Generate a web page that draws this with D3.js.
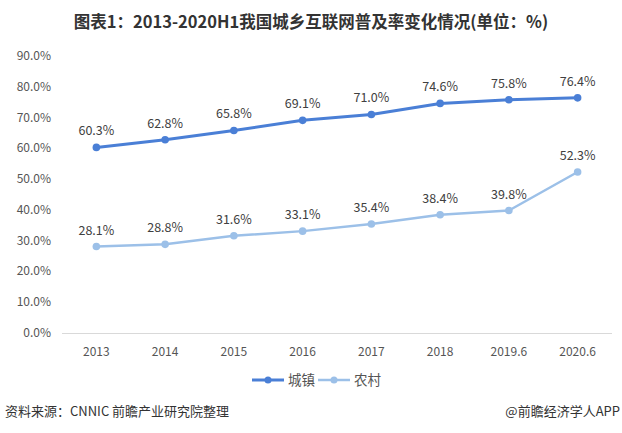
<!DOCTYPE html>
<html><head><meta charset="utf-8">
<script src="https://cdn.jsdelivr.net/npm/d3@7"></script>
<style>body{margin:0;background:#fff}svg{display:block;font-family:"Microsoft YaHei","Noto Sans CJK SC",sans-serif}</style>
</head><body><svg id="c" width="622" height="433"></svg>
<script>
const categories = ["2013","2014","2015","2016","2017","2018","2019.6","2020.6"];
const urban = [60.3,62.8,65.8,69.1,71.0,74.6,75.8,76.4];
const rural = [28.1,28.8,31.6,33.1,35.4,38.4,39.8,52.3];
const yTicks = [0,10,20,30,40,50,60,70,80,90];
const seriesNames = ["城镇","农村"];
const colors = ["#4a7fd6","#9cc0e8"];

const svg = d3.select("#c");
const x = d3.scaleBand().domain(categories).range([62,612]);
const y = d3.scaleLinear().domain([0,90]).range([333,56]);
const cx = d => x(d) + x.bandwidth()/2;

svg.append("text").attr("x",311).attr("y",28).attr("text-anchor","middle")
  .attr("font-size",16.5).attr("font-weight","bold").attr("fill","#333")
  .text("图表1：2013-2020H1我国城乡互联网普及率变化情况(单位：%)");

// y axis labels
svg.append("g").selectAll("text").data(yTicks).join("text")
  .attr("x",51).attr("y",d=>y(d)+4).attr("text-anchor","end")
  .attr("font-size",12).attr("fill","#555").text(d=>d.toFixed(1)+"%");

// x axis line
svg.append("line").attr("x1",62).attr("x2",612).attr("y1",333.5).attr("y2",333.5)
  .attr("stroke","#d9d9d9").attr("stroke-width",1);
svg.append("g").selectAll("text").data(categories).join("text")
  .attr("x",d=>cx(d)).attr("y",356).attr("text-anchor","middle")
  .attr("font-size",12).attr("fill","#555").text(d=>d);

const line = d3.line().x((d,i)=>cx(categories[i])).y(d=>y(d));
[[urban,3,colors[0]],[rural,2.5,colors[1]]].forEach(([data,w,col])=>{
  const g = svg.append("g");
  g.append("path").attr("d",line(data)).attr("fill","none").attr("stroke",col).attr("stroke-width",w).attr("stroke-linejoin","round");
  g.selectAll("circle").data(data).join("circle").attr("cx",(d,i)=>cx(categories[i])).attr("cy",d=>y(d)).attr("r",3.8).attr("fill",col);
  g.selectAll("text").data(data).join("text").attr("x",(d,i)=>cx(categories[i])).attr("y",d=>y(d)-12)
    .attr("text-anchor","middle").attr("font-size",12.5).attr("fill","#404040").text(d=>d.toFixed(1)+"%");
});

// legend
const lg = svg.append("g");
[[252,colors[0],3,seriesNames[0]],[318,colors[1],2.5,seriesNames[1]]].forEach(([lx,col,w,name])=>{
  lg.append("line").attr("x1",lx).attr("x2",lx+32).attr("y1",380).attr("y2",380).attr("stroke",col).attr("stroke-width",w);
  lg.append("circle").attr("cx",lx+16).attr("cy",380).attr("r",3.5).attr("fill",col);
  lg.append("text").attr("x",lx+36).attr("y",385).attr("font-size",13.5).attr("fill","#555").text(name);
});

svg.append("text").attr("x",5).attr("y",416).attr("font-size",13).attr("fill","#333").text("资料来源：CNNIC  前瞻产业研究院整理");
svg.append("text").attr("x",620).attr("y",416).attr("text-anchor","end").attr("font-size",13).attr("fill","#333").text("@前瞻经济学人APP");
</script></body></html>
